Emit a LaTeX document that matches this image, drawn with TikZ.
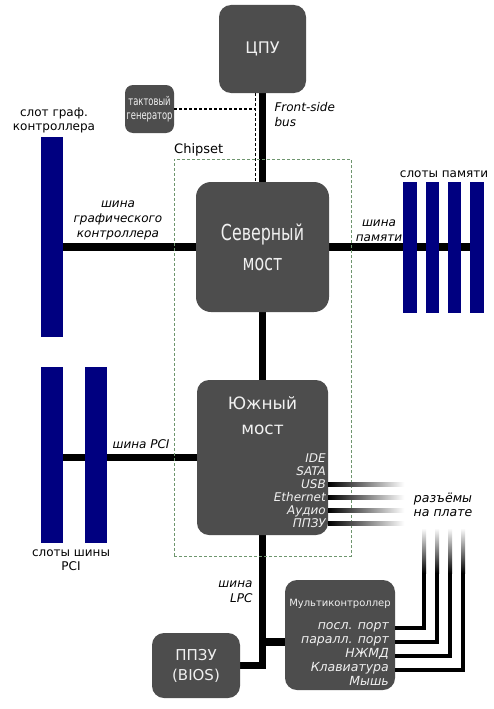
\documentclass[tikz,border=0pt]{standalone}
\usepackage{fontspec}
\setmainfont{DejaVu Sans}
\newfontfamily\narrowfont[FakeStretch=0.72]{DejaVu Sans}
\newfontfamily\clockfont[FakeStretch=0.7]{DejaVu Sans}
\usepackage{tikz}
\usetikzlibrary{positioning, calc, backgrounds}
\definecolor{chipgray}{RGB}{77, 77, 77}
\definecolor{chiptext}{RGB}{240, 240, 240}
\definecolor{slotblue}{RGB}{0, 0, 128}
\definecolor{chipsetgreen}{RGB}{110, 150, 110}

\begin{document}
\begin{tikzpicture}[x=1pt, y=-1pt,
  chip/.style={fill=chipgray, rounded corners=12pt, text=chiptext, align=center, inner sep=0pt},
  slot/.style={fill=slotblue, inner sep=0pt},
  bus/.style={line width=7.5pt},
  port/.style={line width=4pt},
  buslabel/.style={font=\fontsize{12}{15}\selectfont\itshape, align=center},
  slotlabel/.style={font=\fontsize{12}{14}\selectfont, align=center},
  sbport/.style={font=\fontsize{12}{13}\selectfont\itshape, text=chiptext, anchor=east, inner sep=0pt, text height=9pt, text depth=0pt},
  mcport/.style={font=\fontsize{12.5}{14}\selectfont\itshape, text=chiptext, anchor=east, inner sep=0pt, text height=9pt, text depth=6pt},
  clockline/.style={dash pattern=on 3pt off 2pt, line width=1.2pt},
  fadeport/.style={left color=black, middle color=black!85, right color=white},
  fadeup/.style={top color=white, bottom color=black}
]
  \useasboundingbox (0,0) rectangle (493,709);

  % CPU and clock
  \node[chip, minimum width=87pt, minimum height=88pt, font=\fontsize{16}{18}\selectfont] (cpu) at (262.5,49) {ЦПУ};
  \node[chip, rounded corners=8pt, minimum width=49pt, minimum height=48pt, font=\clockfont\fontsize{12}{14.5}\selectfont] (clk) at (149.5,109) {тактовый\\генератор};
  \node[buslabel, align=left, anchor=west] (fsblabel) at (271,114.5) {Front-side\\bus};

  % Chipset
  \node[chip, rounded corners=15pt, minimum width=133pt, minimum height=130pt, font=\narrowfont\fontsize{22}{30}\selectfont] (nb) at (262.5,247) {Северный\\мост};
  \node[chip, minimum width=131pt, minimum height=155pt] (sb) at (262.5,457.5) {};
  \node[font=\fontsize{17}{25}\selectfont, text=chiptext, align=center] (sbtitle) at (262.5,415.5) {Южный\\мост};

  \node[sbport] (sbide) at (326,458) {IDE};
  \node[sbport] (sbsata) at (326,471) {SATA};
  \node[sbport] (sbusb) at (326,484) {USB};
  \node[sbport] (sbeth) at (326,497) {Ethernet};
  \node[sbport] (sbaudio) at (326,510) {Аудио};
  \node[sbport] (sbrom) at (326,523) {ППЗУ};

  \node[draw=chipsetgreen, dash pattern=on 3pt off 2pt, line width=0.8pt, minimum width=177pt, minimum height=397pt] (chipset) at (262.5,357.5) {};
  \node[font=\fontsize{13}{15}\selectfont, anchor=base west, inner sep=0pt] (chipsetlabel) at (174,153) {Chipset};

  % Graphics slot
  \node[slot, minimum width=22pt, minimum height=200pt] (agpslot) at (52,237) {};
  \node[slotlabel] (agplabel) at (54,120) {слот граф.\\контроллера};
  \node[buslabel] (agpbuslabel) at (118,220) {шина\\графического\\контроллера};

  % Memory
  \node[slot, minimum width=13.5pt, minimum height=131pt] (mem1) at (410,247.5) {};
  \node[slot, minimum width=13.5pt, minimum height=131pt] (mem2) at (432.5,247.5) {};
  \node[slot, minimum width=13.5pt, minimum height=131pt] (mem3) at (454.5,247.5) {};
  \node[slot, minimum width=13.5pt, minimum height=131pt] (mem4) at (477,247.5) {};
  \node[slotlabel] (memlabel) at (444,174) {слоты памяти};
  \node[buslabel] (membuslabel) at (379,230.5) {шина\\памяти};

  % PCI
  \node[slot, minimum width=22pt, minimum height=176pt] (pci1) at (52,455) {};
  \node[slot, minimum width=22pt, minimum height=176pt] (pci2) at (96,455) {};
  \node[slotlabel] (pcilabel) at (71,560.5) {слоты шины\\PCI};
  \node[buslabel] (pcibuslabel) at (141,444) {шина PCI};

  % On-board connectors
  \node[buslabel, font=\fontsize{12.5}{14}\selectfont\itshape] (boardlabel) at (443,505) {разъёмы\\на плате};

  % BIOS and multicontroller
  \node[chip, minimum width=88pt, minimum height=65pt, font=\fontsize{15}{20}\selectfont] (bios) at (196,665.5) {ППЗУ\\(BIOS)};
  \node[chip, minimum width=110pt, minimum height=110pt] (mc) at (340,635) {};
  \node[font=\fontsize{10}{12}\selectfont, text=chiptext] (mctitle) at (340,604) {Мультиконтроллер};
  \node[mcport] (mcser) at (389,628) {посл. порт};
  \node[mcport] (mcpar) at (389,642) {паралл. порт};
  \node[mcport] (mcfdd) at (389,656) {НЖМД};
  \node[mcport] (mckbd) at (389,670) {Клавиатура};
  \node[mcport] (mcmouse) at (389,684) {Мышь};
  \node[buslabel, align=right, anchor=east] (lpclabel) at (256,591.5) {шина\\LPC};

  % Buses
  \begin{scope}[on background layer]
    \fill[white] (0,0) rectangle (493,709);
    \draw[bus] (cpu) -- (nb);
    \draw[bus] (nb) -- (sb);
    \draw[bus] (nb.west) -- (nb.west -| agpslot.center);
    \draw[bus] (nb.east) -- (nb.east -| mem4.west);
    \draw[bus] (sb.west) -- (sb.west -| pci1.center);
    \draw[bus] (sb.south) |- (bios.east);
    \draw[bus] (mc.west |- mcpar.east) -- (sb.south |- mcpar.east);
  \end{scope}

  % Clock line
  \coordinate (clkdrop) at ($(cpu.south)+(-7,0)$);
  \draw[clockline] (clkdrop) -- (clkdrop |- nb.north);
  \draw[clockline] (clk.east) -- (clk.east -| clkdrop);

  % Southbridge ports
  \shade[fadeport] ($(sb.east |- sbusb.east)+(0,-2)$) rectangle ++(76,4);
  \shade[fadeport] ($(sb.east |- sbeth.east)+(0,-2)$) rectangle ++(76,4);
  \shade[fadeport] ($(sb.east |- sbaudio.east)+(0,-2)$) rectangle ++(76,4);
  \shade[fadeport] ($(sb.east |- sbrom.east)+(0,-2)$) rectangle ++(76,4);

  % Multicontroller ports
  \draw[port] (mc.east |- mcser.east) -| (424,572);
  \draw[port] (mc.east |- mcpar.east) -| (437,572);
  \draw[port] (mc.east |- mcfdd.east) -| (450,572);
  \draw[port] (mc.east |- mckbd.east) -| (463,572);
  \shade[fadeup] (422,528) rectangle (426,573);
  \shade[fadeup] (435,528) rectangle (439,573);
  \shade[fadeup] (448,528) rectangle (452,573);
  \shade[fadeup] (461,528) rectangle (465,573);
\end{tikzpicture}
\end{document}
